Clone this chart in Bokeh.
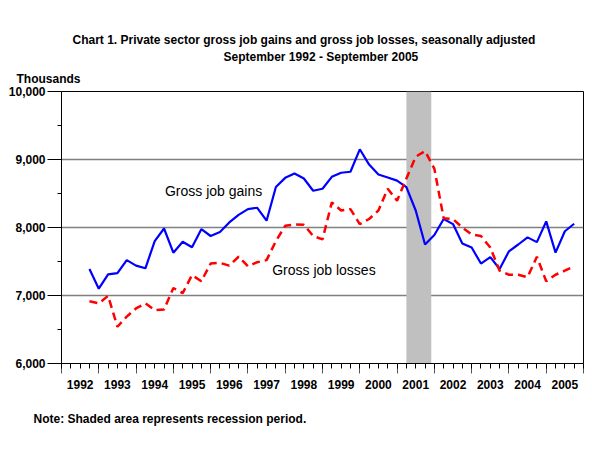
from bokeh.plotting import figure
from bokeh.models import (FixedTicker, NumeralTickFormatter, LinearAxis, BoxAnnotation,
                          Label, ColumnDataSource, Range1d, Title)
from bokeh.embed import file_html
from bokeh.resources import INLINE

# Quarters: September 1992 (1992Q3) through September 2005 (2005Q3)
quarters = [f"{1992 + (i + 2) // 4}Q{(i + 2) % 4 + 1}" for i in range(53)]

# Thousands, seasonally adjusted
gross_job_gains = [7390, 7100, 7310, 7330, 7520, 7440, 7400, 7800, 7985, 7630,
                   7790, 7710, 7975, 7875, 7935, 8075, 8185, 8270, 8290, 8100,
                   8595, 8730, 8795, 8720, 8540, 8570, 8745, 8805, 8820, 9150,
                   8925, 8780, 8735, 8690, 8595, 8250, 7750, 7890, 8125, 8050,
                   7765, 7705, 7470, 7565, 7390, 7650, 7750, 7855, 7785, 8090,
                   7630, 7945, 8055]
gross_job_losses = [6915, 6885, 6995, 6540, 6690, 6810, 6885, 6785, 6795, 7110,
                    7035, 7300, 7210, 7470, 7480, 7440, 7570, 7430, 7490, 7520,
                    7800, 8025, 8045, 8040, 7875, 7825, 8370, 8250, 8270, 8050,
                    8125, 8250, 8570, 8395, 8720, 9040, 9125, 8865, 8135, 8125,
                    8000, 7900, 7875, 7705, 7365, 7305, 7305, 7270, 7570, 7210,
                    7305, 7365, 7430]

year_labels = ["1992", "1993", "1994", "1995", "1996", "1997", "1998", "1999",
               "2000", "2001", "2002", "2003", "2004", "2005"]
y_ticks = [6000, 7000, 8000, 9000, 10000]

# Recession: March 2001 - November 2001 (quarter index units)
recession_start = quarters.index("2001Q1")
recession_end = quarters.index("2001Q4") - 1 / 3

FONT = "Liberation Sans"

x = list(range(len(quarters)))
src = ColumnDataSource(dict(x=x, gains=gross_job_gains, losses=gross_job_losses))

p = figure(width=584, height=451, output_backend="svg", toolbar_location=None,
           x_range=Range1d(-3, 53), y_range=Range1d(6000, 10000),
           min_border_left=61, min_border_right=1, min_border_top=91,
           min_border_bottom=88)
p.outline_line_color = "black"
p.outline_line_width = 1
p.background_fill_color = "white"
p.border_fill_color = "white"

# grid
p.xgrid.visible = False
p.ygrid.ticker = FixedTicker(ticks=y_ticks)
p.ygrid.grid_line_color = "#808080"
p.ygrid.grid_line_width = 1.5

# recession band
p.add_layout(BoxAnnotation(left=recession_start, right=recession_end,
                           fill_color="#C0C0C0", fill_alpha=1.0, line_color=None,
                           level="underlay"))

# lines
p.line("x", "gains", source=src, line_color="#0000FF", line_width=2.2)
p.line("x", "losses", source=src, line_color="#FF0000", line_width=2.5,
       line_dash="8 5")

# y axis
ya = p.yaxis[0]
ya.ticker = FixedTicker(ticks=y_ticks, minor_ticks=[6500, 7500, 8500, 9500])
ya.formatter = NumeralTickFormatter(format="0,0")
ya.major_tick_out = 14
ya.major_tick_in = 0
ya.minor_tick_out = 4
ya.minor_tick_in = 0
ya.major_tick_line_color = "black"
ya.minor_tick_line_color = "black"
ya.axis_line_color = "black"
ya.major_label_standoff = 2
ya.major_label_text_font = FONT
ya.major_label_text_font_size = "12px"
ya.major_label_text_font_style = "bold"
ya.major_label_text_color = "black"

# x axis: quarter ticks (long at year boundaries)
xa = p.xaxis[0]
long_ticks = list(range(-3, 54, 4))
xa.ticker = FixedTicker(ticks=long_ticks, minor_ticks=list(range(-3, 54)))
xa.major_label_overrides = {t: "" for t in long_ticks}
xa.major_label_text_font_size = "1px"
xa.major_label_standoff = 0
xa.major_tick_out = 10
xa.major_tick_in = 0
xa.minor_tick_out = 5
xa.minor_tick_in = 0
xa.axis_line_color = "black"
xa.major_tick_line_color = "#555555"
xa.minor_tick_line_color = "black"

# x axis: year labels
year_pos = [(int(y) - 1992) * 4 - 1 for y in year_labels]
xb = LinearAxis(ticker=FixedTicker(ticks=year_pos, minor_ticks=[]),
                major_label_overrides={pos: lab for pos, lab in zip(year_pos, year_labels)},
                axis_line_color=None, major_tick_line_color=None,
                minor_tick_line_color=None, major_label_standoff=0,
                major_label_text_font=FONT, major_label_text_font_size="12px",
                major_label_text_font_style="bold", major_label_text_color="black")
p.add_layout(xb, "below")

# series labels
p.add_layout(Label(x=8.1, y=8540, text="Gross job gains", text_font=FONT,
                   text_font_size="14px", text_baseline="middle", text_align="left",
                   text_color="black"))
p.add_layout(Label(x=19.6, y=7372, text="Gross job losses", text_font=FONT,
                   text_font_size="14px", text_baseline="middle", text_align="left",
                   text_color="black"))

# titles (panels above the frame; first added sits nearest the frame)
def add_title(text, place, offset, standoff):
    p.add_layout(Title(text=text, align="left", offset=offset, standoff=standoff,
                       text_font=FONT, text_font_size="12px", text_font_style="bold",
                       text_color="black"), place)

add_title("Thousands", "above", -45, 12)
add_title("September 1992 - September 2005", "above", 162, -1)
add_title("Chart 1. Private sector gross job gains and gross job losses, seasonally adjusted",
          "above", 11, 3)
add_title("Note: Shaded area represents recession period.", "below", -28, 36)

open("out.html", "w").write(file_html(p, INLINE))
